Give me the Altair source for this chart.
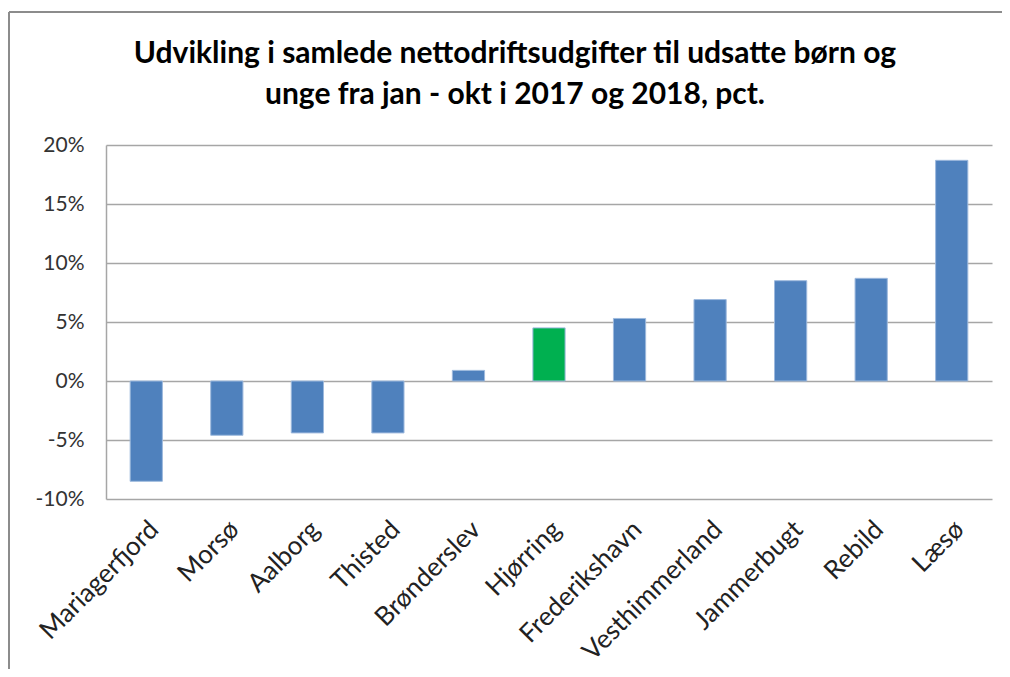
import altair as alt
import pandas as pd

kommuner = ["Mariagerfjord", "Morsø", "Aalborg", "Thisted", "Brønderslev", "Hjørring",
            "Frederikshavn", "Vesthimmerland", "Jammerbugt", "Rebild", "Læsø"]
udvikling = [-8.5, -4.6, -4.4, -4.4, 0.9, 4.5, 5.3, 6.9, 8.5, 8.7, 18.7]
farve = ["blå", "blå", "blå", "blå", "blå", "grøn", "blå", "blå", "blå", "blå", "blå"]

df = pd.DataFrame({"kommune": kommuner, "pct": [v / 100 for v in udvikling], "farve": farve})

title_lines = ["Udvikling i samlede nettodriftsudgifter til udsatte børn og",
               "unge fra jan - okt i 2017 og 2018, pct."]

bars = alt.Chart(df).mark_bar(stroke="#9DB9DD", strokeWidth=1).encode(
    x=alt.X("kommune:N", sort=kommuner, title=None,
            scale=alt.Scale(paddingInner=0.6, paddingOuter=0.3),
            axis=alt.Axis(labelAngle=315, labelAlign="right", labelBaseline="middle",
                          labelFontSize=26, labelFont="Lato", labelColor="#222",
                          labelPadding=26, labelOffset=8, labelLimit=400,
                          domain=False, ticks=False, grid=False, labelOverlap=False)),
    y=alt.Y("pct:Q", title=None,
            scale=alt.Scale(domain=[-0.1, 0.2], nice=False),
            axis=alt.Axis(values=[-0.1, -0.05, 0, 0.05, 0.1, 0.15, 0.2],
                          labelExpr="(datum.value < -0.0001 ? '-' : '') + format(abs(datum.value) * 100, '.0f') + '%'",
                          labelFontSize=21, labelFont="Lato", labelColor="#333",
                          labelPadding=22, ticks=False, domain=True,
                          domainColor="#A6A6A6", domainWidth=1.5,
                          grid=True, gridColor="#A6A6A6", gridWidth=1.5)),
    color=alt.Color("farve:N", legend=None,
                    scale=alt.Scale(domain=["blå", "grøn"], range=["#4F81BD", "#00B050"])),
)

frame_df = pd.DataFrame({"a": [0]})
frame_top = alt.Chart(frame_df).mark_rule(color="#8C8C8C", strokeWidth=2).encode(
    x=alt.value(-97), x2=alt.value(900), y=alt.value(-133))
frame_left = alt.Chart(frame_df).mark_rule(color="#8C8C8C", strokeWidth=2).encode(
    x=alt.value(-97), y=alt.value(-133), y2=alt.value(700))

chart = alt.layer(frame_top, frame_left, bars).properties(
    width=886, height=354,
    title=alt.TitleParams(title_lines, anchor="middle", frame="group", dx=-34, offset=-99,
                          fontSize=30, font="Lato", fontWeight="bold",
                          color="#000", lineHeight=41),
    autosize=alt.AutoSizeParams(type="none"),
    padding={"left": 98, "top": 137, "right": 10, "bottom": 170},
).configure_view(stroke=None)

chart.save("out.html", embed_options={"renderer": "svg", "actions": False})
